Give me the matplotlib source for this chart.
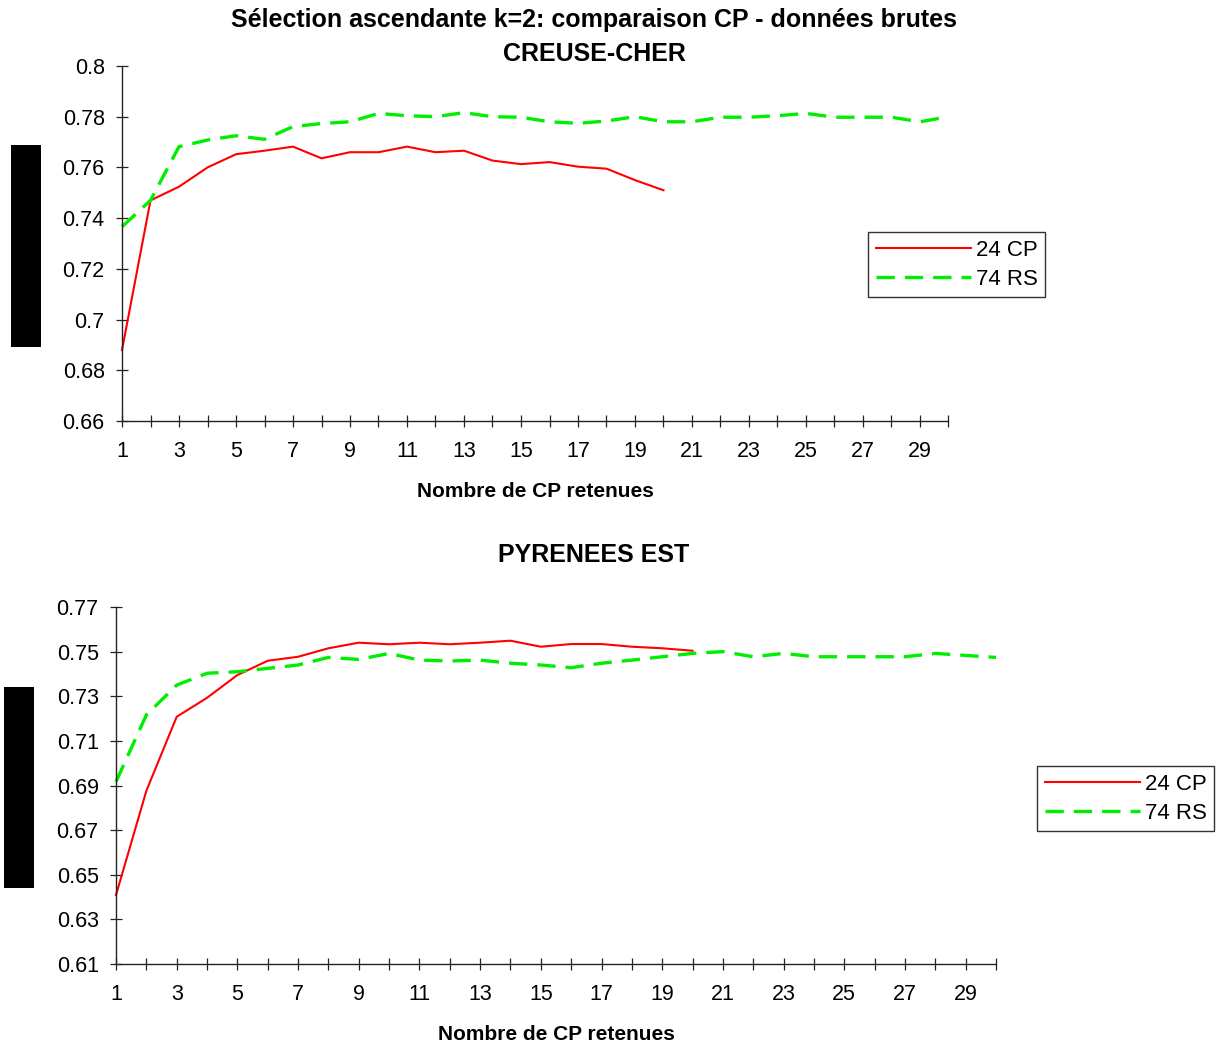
import matplotlib
matplotlib.use("Agg")
import matplotlib.pyplot as plt
from matplotlib.patches import Rectangle

plt.rcParams['font.family'] = ['Liberation Sans', 'DejaVu Sans']

# ---- data ----
n_top_cp = list(range(1, 21))
top_cp = [0.688, 0.747, 0.7524, 0.760, 0.7652, 0.7666, 0.7682, 0.7636, 0.766, 0.766,
          0.7682, 0.766, 0.7666, 0.7627, 0.7613, 0.7621, 0.7603, 0.7595, 0.755, 0.751]
n_top_rs = list(range(1, 31))
top_rs = [0.7366, 0.747, 0.7682, 0.7708, 0.7725, 0.7711, 0.7761, 0.7773, 0.778, 0.7813,
          0.7804, 0.780, 0.7816, 0.780, 0.7798, 0.778, 0.7774, 0.7783, 0.780, 0.778,
          0.778, 0.7798, 0.7798, 0.7804, 0.7813, 0.7798, 0.7798, 0.7798, 0.778, 0.780]

n_bot_cp = list(range(1, 21))
bot_cp = [0.6409, 0.6876, 0.7208, 0.7293, 0.7395, 0.7459, 0.7477, 0.7515, 0.754, 0.7533,
          0.754, 0.7533, 0.754, 0.7549, 0.7522, 0.7534, 0.7534, 0.7522, 0.7515, 0.7504]
n_bot_rs = list(range(1, 31))
bot_rs = [0.6917, 0.7216, 0.735, 0.7403, 0.741, 0.7425, 0.744, 0.7474, 0.7465, 0.7492,
          0.7462, 0.7458, 0.7462, 0.7448, 0.744, 0.7428, 0.7448, 0.7462, 0.7477, 0.7492,
          0.750, 0.7477, 0.7492, 0.7477, 0.7477, 0.7477, 0.7477, 0.7492, 0.7483, 0.7474]

series_labels = ["24 CP", "74 RS"]
top_yticks = [0.66, 0.68, 0.70, 0.72, 0.74, 0.76, 0.78, 0.80]
bot_yticks = [0.61, 0.63, 0.65, 0.67, 0.69, 0.71, 0.73, 0.75, 0.77]
xticks_major = list(range(1, 31, 2))
xticks_minor = list(range(1, 31))

title_main = "Sélection ascendante k=2: comparaison CP - données brutes"
title_top = "CREUSE-CHER"
title_bot = "PYRENEES EST"
xlabel = "Nombre de CP retenues"

W, H = 1230, 1045
fig = plt.figure(figsize=(W / 100, H / 100), dpi=100)


def fx(px):
    return px / W


def fy(py):
    return 1 - py / H


def style_axes(ax, yticks, ymin, ymax):
    ax.set_xlim(1, 30)
    ax.set_ylim(ymin, ymax)
    for s in ['top', 'right']:
        ax.spines[s].set_visible(False)
    for s in ['left', 'bottom']:
        ax.spines[s].set_linewidth(1.0)
        ax.spines[s].set_color('#222222')
    ax.set_xticks(xticks_major)
    ax.set_xticks(xticks_minor, minor=True)
    ax.set_xticklabels([str(v) for v in xticks_major])
    ax.set_yticks(yticks)
    ax.set_yticklabels(['%g' % v for v in yticks])
    ax.tick_params(axis='both', which='both', direction='inout', length=9, width=0.9,
                   labelsize=15.5, color='#222222')
    ax.tick_params(axis='y', pad=8)
    ax.tick_params(axis='x', pad=10)
    ax.set_xlabel(xlabel, fontsize=15, fontweight='bold', labelpad=14)


green_dash = (5.5, 3)

legend_kw = dict(loc='upper left', fontsize=16, handlelength=4.3,
                 frameon=True, fancybox=False, edgecolor='black', borderpad=0.35,
                 labelspacing=0.35, handletextpad=0.2, borderaxespad=0)

# top axes
ax1 = fig.add_axes([fx(122), fy(421), fx(948.5) - fx(122), fy(66) - fy(421)])
ax1.plot(n_top_cp, top_cp, color='#ff0000', lw=1.5, label=series_labels[0], clip_on=False)
ax1.plot(n_top_rs, top_rs, color='#00ee00', lw=2.4, dashes=green_dash,
         label=series_labels[1], clip_on=False)
style_axes(ax1, top_yticks, 0.66, 0.80)
leg1 = ax1.legend(bbox_to_anchor=(fx(868), fy(232)), bbox_transform=fig.transFigure, **legend_kw)
leg1.get_frame().set_linewidth(1.0)

# bottom axes
ax2 = fig.add_axes([fx(116), fy(964), fx(996) - fx(116), fy(607) - fy(964)])
ax2.plot(n_bot_cp, bot_cp, color='#ff0000', lw=1.5, label=series_labels[0], clip_on=False)
ax2.plot(n_bot_rs, bot_rs, color='#00ee00', lw=2.4, dashes=green_dash,
         label=series_labels[1], clip_on=False)
style_axes(ax2, bot_yticks, 0.61, 0.77)
leg2 = ax2.legend(bbox_to_anchor=(fx(1037), fy(766)), bbox_transform=fig.transFigure, **legend_kw)
leg2.get_frame().set_linewidth(1.0)

# titles
fig.text(fx(594), fy(20), title_main, ha='center', va='center', fontsize=18, fontweight='bold')
fig.text(fx(594), fy(54), title_top, ha='center', va='center', fontsize=18, fontweight='bold')
fig.text(fx(594), fy(555), title_bot, ha='center', va='center', fontsize=18, fontweight='bold')

# black boxes at the left
fig.patches.append(Rectangle((fx(11), fy(347)), fx(30), 202 / H, transform=fig.transFigure,
                             facecolor='black', edgecolor='none'))
fig.patches.append(Rectangle((fx(4), fy(888)), fx(30), 201 / H, transform=fig.transFigure,
                             facecolor='black', edgecolor='none'))

fig.savefig('out.png', dpi=100, facecolor='white')
